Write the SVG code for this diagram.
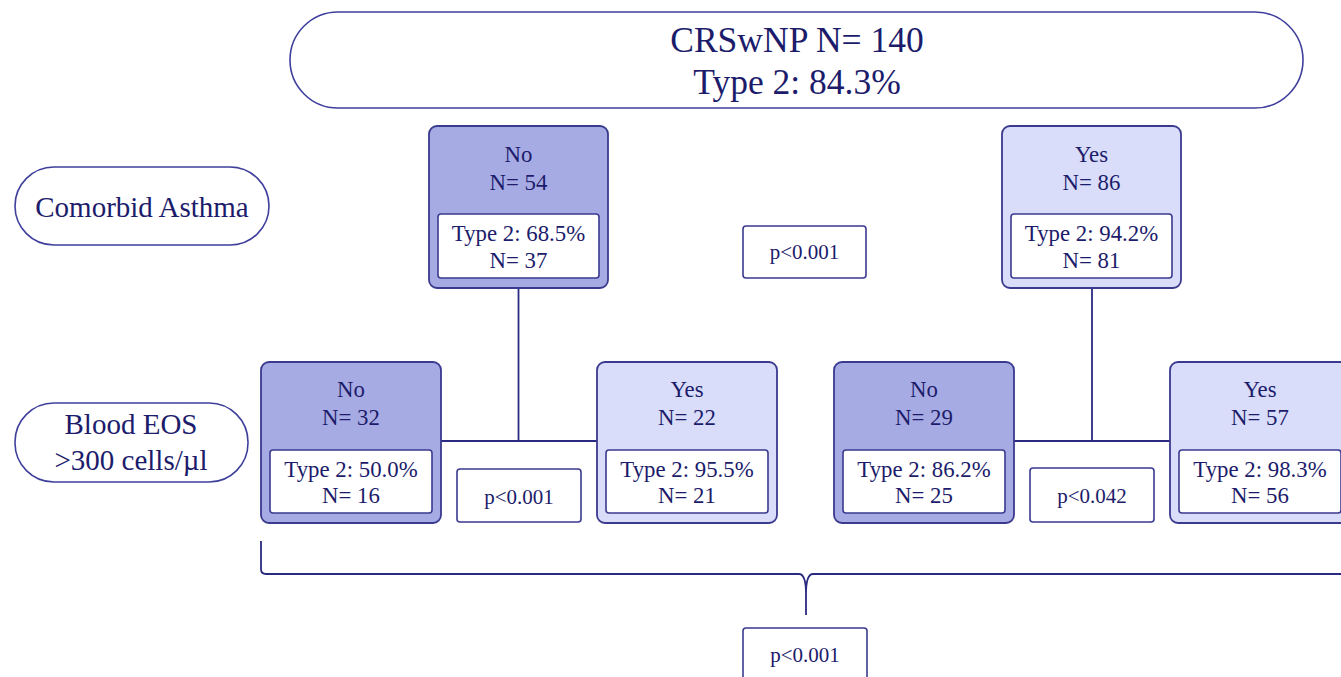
<svg xmlns="http://www.w3.org/2000/svg" width="1341" height="677" viewBox="0 0 1341 677">
<style>
text{font-family:"Liberation Serif","Times New Roman",serif;fill:#1c1c6b;text-anchor:middle}
.pill{fill:#fff;stroke:#3f3f9c;stroke-width:1.6}
.dark{fill:#a7abe3;stroke:#3a3a8e;stroke-width:1.8}
.light{fill:#d9ddf9;stroke:#3a3a8e;stroke-width:1.8}
.inner{fill:#fff;stroke:#3a3a8e;stroke-width:1.6}
.pbox{fill:#fff;stroke:#3a3a8e;stroke-width:1.6}
.conn{fill:none;stroke:#2a2a80;stroke-width:1.8}
.big{font-size:35.5px}
.lab{font-size:29px}
.nt{font-size:22.8px}
.pt{font-size:21px}
</style>
<rect width="1341" height="677" fill="#fff"/>
<g id="connectors">
<path class="conn" d="M518.5,288 V441 M441,441 H597"/>
<path class="conn" d="M1092,288 V441 M1014,441 H1170"/>
<path class="conn" d="M261,541 V569 Q261,574 266,574 H799 Q806,574 806,594 V615 M806,594 Q806,574 813,574 H1345"/>
</g>
<g id="root">
<rect class="pill" x="290" y="12" width="1013" height="96" rx="48"/>
<text class="big" x="797" y="52">CRSwNP N= 140</text>
<text class="big" x="797" y="94">Type 2: 84.3%</text>
</g>
<g id="label-asthma">
<rect class="pill" x="15" y="167" width="254" height="78" rx="39"/>
<text class="lab" x="142" y="217">Comorbid Asthma</text>
</g>
<g id="label-eos">
<rect class="pill" x="15" y="403" width="233" height="79" rx="39"/>
<text class="lab" x="131" y="434">Blood EOS</text>
<text class="lab" x="131" y="470">&gt;300 cells/µl</text>
</g>
<g id="asthma-no">
<rect class="dark" x="429" y="126" width="179" height="162" rx="8"/>
<text class="nt" x="518.5" y="162">No</text>
<text class="nt" x="518.5" y="190">N= 54</text>
<rect class="inner" x="438" y="214" width="161" height="64" rx="3"/>
<text class="nt" x="518.5" y="241">Type 2: 68.5%</text>
<text class="nt" x="518.5" y="268">N= 37</text>
</g>
<g id="asthma-yes">
<rect class="light" x="1002" y="126" width="179" height="162" rx="8"/>
<text class="nt" x="1091.5" y="162">Yes</text>
<text class="nt" x="1091.5" y="190">N= 86</text>
<rect class="inner" x="1011" y="214" width="161" height="64" rx="3"/>
<text class="nt" x="1091.5" y="241">Type 2: 94.2%</text>
<text class="nt" x="1091.5" y="268">N= 81</text>
</g>
<g id="p-asthma">
<rect class="pbox" x="743" y="226" width="123" height="52" rx="3"/>
<text class="pt" x="804.5" y="259">p&lt;0.001</text>
</g>
<g id="no-eos-no">
<rect class="dark" x="261" y="362" width="180" height="161" rx="8"/>
<text class="nt" x="351" y="397">No</text>
<text class="nt" x="351" y="425">N= 32</text>
<rect class="inner" x="270" y="450" width="162" height="63" rx="3"/>
<text class="nt" x="351" y="477">Type 2: 50.0%</text>
<text class="nt" x="351" y="503">N= 16</text>
</g>
<g id="no-eos-yes">
<rect class="light" x="597" y="362" width="180" height="161" rx="8"/>
<text class="nt" x="687" y="397">Yes</text>
<text class="nt" x="687" y="425">N= 22</text>
<rect class="inner" x="606" y="450" width="162" height="63" rx="3"/>
<text class="nt" x="687" y="477">Type 2: 95.5%</text>
<text class="nt" x="687" y="503">N= 21</text>
</g>
<g id="p-no">
<rect class="pbox" x="457" y="469" width="124" height="53" rx="3"/>
<text class="pt" x="519" y="504">p&lt;0.001</text>
</g>
<g id="yes-eos-no">
<rect class="dark" x="834" y="362" width="180" height="161" rx="8"/>
<text class="nt" x="924" y="397">No</text>
<text class="nt" x="924" y="425">N= 29</text>
<rect class="inner" x="843" y="450" width="162" height="63" rx="3"/>
<text class="nt" x="924" y="477">Type 2: 86.2%</text>
<text class="nt" x="924" y="503">N= 25</text>
</g>
<g id="yes-eos-yes">
<rect class="light" x="1170" y="362" width="180" height="161" rx="8"/>
<text class="nt" x="1260" y="397">Yes</text>
<text class="nt" x="1260" y="425">N= 57</text>
<rect class="inner" x="1179" y="450" width="162" height="63" rx="3"/>
<text class="nt" x="1260" y="477">Type 2: 98.3%</text>
<text class="nt" x="1260" y="503">N= 56</text>
</g>
<g id="p-yes">
<rect class="pbox" x="1030" y="468" width="124" height="54" rx="3"/>
<text class="pt" x="1092" y="503">p&lt;0.042</text>
</g>
<g id="p-overall">
<rect class="pbox" x="743" y="628" width="124" height="62" rx="3"/>
<text class="pt" x="805" y="662">p&lt;0.001</text>
</g>
</svg>
